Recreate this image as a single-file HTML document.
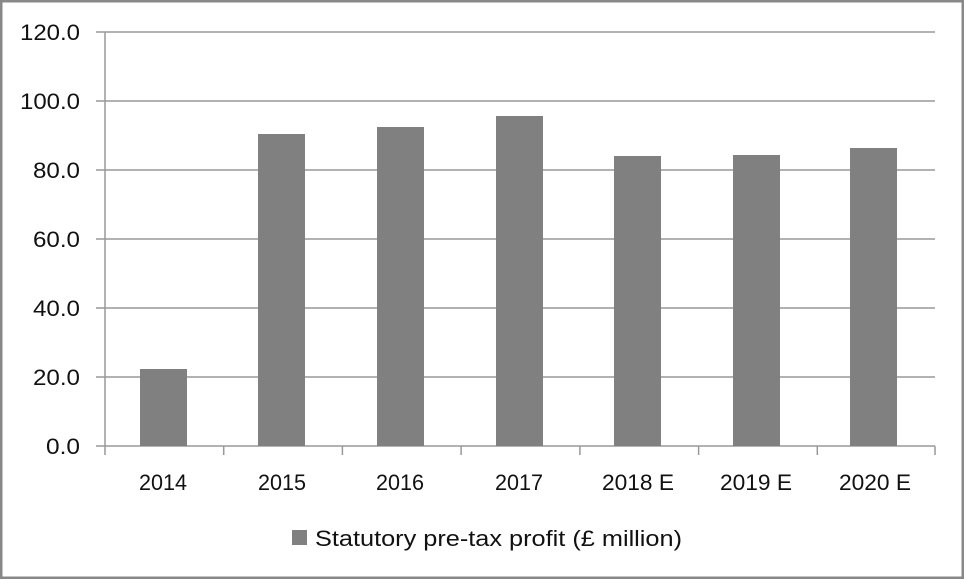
<!DOCTYPE html>
<html><head><style>html,body{margin:0;padding:0;background:#fff}</style></head><body>
<svg width="964" height="579" xmlns="http://www.w3.org/2000/svg" font-family="Liberation Sans, sans-serif" font-size="22" fill="#111">
<rect x="1" y="1" width="962" height="577" fill="#fff" stroke="#888" stroke-width="3"/>
<g stroke="#999" stroke-width="1.5">
<line x1="96" y1="32" x2="935" y2="32"/>
<line x1="96" y1="101" x2="935" y2="101"/>
<line x1="96" y1="170" x2="935" y2="170"/>
<line x1="96" y1="239" x2="935" y2="239"/>
<line x1="96" y1="308" x2="935" y2="308"/>
<line x1="96" y1="377" x2="935" y2="377"/>
<line x1="96" y1="446" x2="935" y2="446"/>
<line x1="105" y1="32" x2="105" y2="455"/>
<line x1="223.7" y1="446" x2="223.7" y2="455"/>
<line x1="342.4" y1="446" x2="342.4" y2="455"/>
<line x1="461.1" y1="446" x2="461.1" y2="455"/>
<line x1="579.9" y1="446" x2="579.9" y2="455"/>
<line x1="698.6" y1="446" x2="698.6" y2="455"/>
<line x1="817.3" y1="446" x2="817.3" y2="455"/>
<line x1="935" y1="446" x2="935" y2="455"/>
</g>
<g fill="#808080">
<rect x="140" y="369" width="47" height="77"/>
<rect x="258" y="134" width="47" height="312"/>
<rect x="377" y="127" width="47" height="319"/>
<rect x="496" y="116" width="47" height="330"/>
<rect x="614" y="156" width="47" height="290"/>
<rect x="733" y="155" width="47" height="291"/>
<rect x="850" y="148" width="47" height="298"/>
</g>
<g>
<text x="20" y="40" textLength="60" lengthAdjust="spacingAndGlyphs">120.0</text>
<text x="20" y="109" textLength="60" lengthAdjust="spacingAndGlyphs">100.0</text>
<text x="33" y="178" textLength="47" lengthAdjust="spacingAndGlyphs">80.0</text>
<text x="33" y="247" textLength="47" lengthAdjust="spacingAndGlyphs">60.0</text>
<text x="33" y="316" textLength="47" lengthAdjust="spacingAndGlyphs">40.0</text>
<text x="33" y="385" textLength="47" lengthAdjust="spacingAndGlyphs">20.0</text>
<text x="46" y="454" textLength="34" lengthAdjust="spacingAndGlyphs">0.0</text>
</g>
<g>
<text x="139" y="490" textLength="48" lengthAdjust="spacingAndGlyphs">2014</text>
<text x="258" y="490" textLength="48" lengthAdjust="spacingAndGlyphs">2015</text>
<text x="376" y="490" textLength="48" lengthAdjust="spacingAndGlyphs">2016</text>
<text x="495" y="490" textLength="48" lengthAdjust="spacingAndGlyphs">2017</text>
<text x="602" y="490" textLength="72" lengthAdjust="spacingAndGlyphs">2018 E</text>
<text x="720" y="490" textLength="72" lengthAdjust="spacingAndGlyphs">2019 E</text>
<text x="839" y="490" textLength="72" lengthAdjust="spacingAndGlyphs">2020 E</text>
</g>
<rect x="292" y="530" width="15" height="15" fill="#808080"/>
<text x="315" y="546" textLength="367" lengthAdjust="spacingAndGlyphs">Statutory pre-tax profit (£ million)</text>
</svg>
</body></html>
